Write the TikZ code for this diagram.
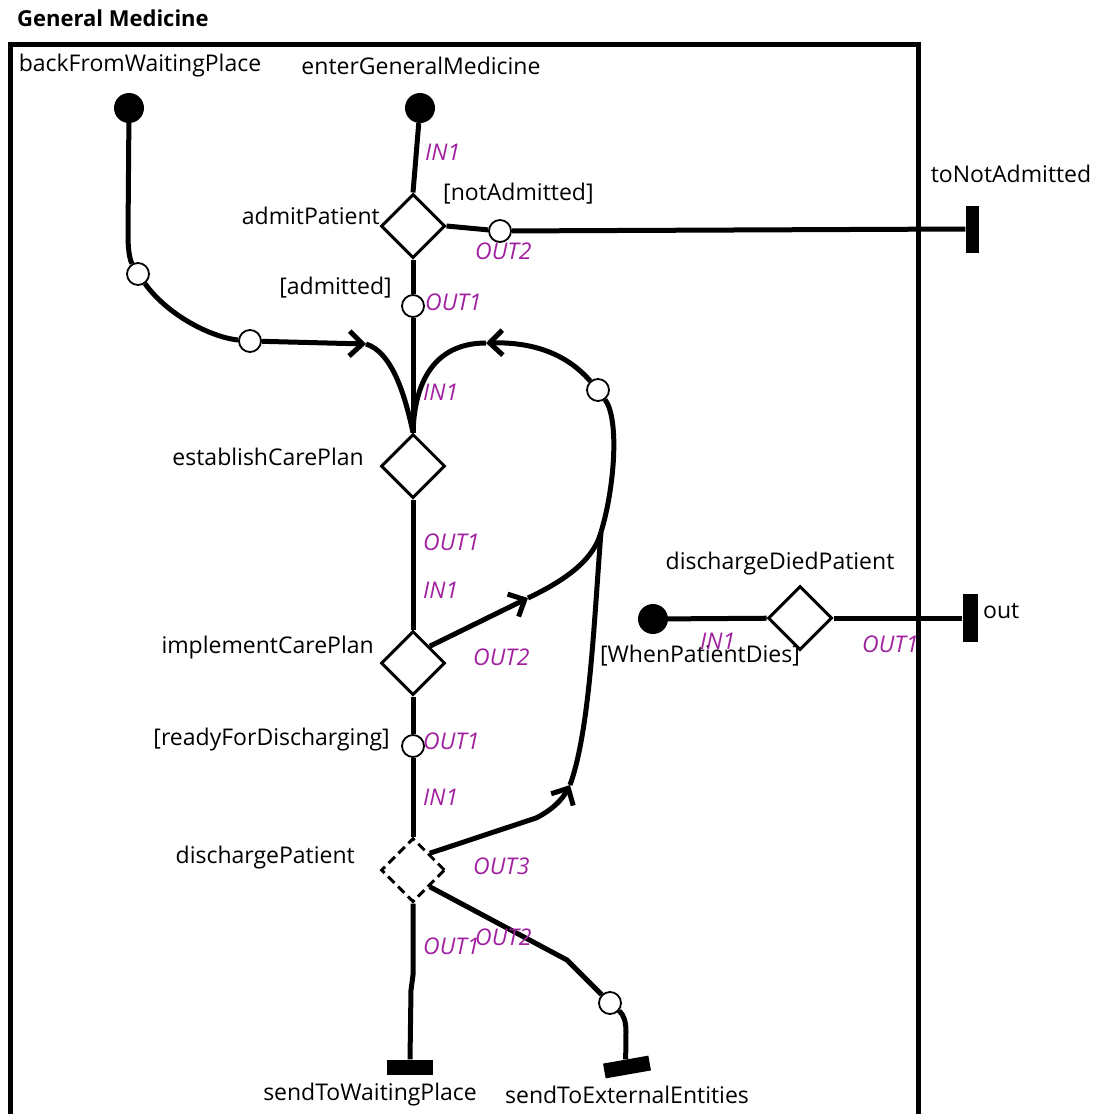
\documentclass[tikz,border=0pt]{standalone}
\usepackage{fontspec}
\setmainfont{Open Sans}
\usetikzlibrary{arrows.meta,positioning,shapes.geometric}
\definecolor{portcolor}{RGB}{160,32,160}
\newcommand{\diagfont}{\fontsize{23}{27}\selectfont}
\tikzset{
  lbl/.style     = {font=\diagfont,inner sep=0pt},
  port/.style    = {font=\diagfont\itshape,text=portcolor,inner sep=0pt},
  conn/.style    = {line width=5pt,line join=round},
  entry/.style   = {circle,fill=black,minimum size=30pt,inner sep=0pt},
  junc/.style    = {circle,draw=black,line width=1.8pt,fill=white,
                    minimum size=22pt,inner sep=0pt},
  task/.style    = {diamond,draw=black,line width=3pt,fill=white,aspect=1,
                    minimum width=64pt,minimum height=64pt,inner sep=0pt},
  exitbar/.style = {rectangle,fill=black,inner sep=0pt},
  tip/.style     = {-{Straight Barb[length=13pt,width=25pt]}},
}

\begin{document}
\begin{tikzpicture}[x=1pt,y=-1pt]
  \useasboundingbox (0,0) rectangle (1099,1114);
  % frame
  \node[lbl,font=\fontsize{22}{26}\selectfont\bfseries,anchor=west] (title) at (17,18) {General Medicine};
  \draw[line width=5pt] (10,1114) |- (918,44) -- (918,1114);

  % entry points
  \node[entry] (bfw) at (129,108) {};
  \node[lbl] at (140,66) {backFromWaitingPlace};
  \node[entry] (egm) at (420,108) {};
  \node[lbl] at (421,66) {enterGeneralMedicine};
  \node[entry] (wpd) at (653,619) {};
  \node[lbl] at (700,656) {[WhenPatientDies]};

  % tasks
  \node[task] (ap) at (413,226) {};
  \node[lbl,anchor=east] at (380,216) {admitPatient};
  \node[task] (ecp) at (413,466) {};
  \node[lbl,anchor=east] at (364,457) {establishCarePlan};
  \node[task] (icp) at (413,663) {};
  \node[lbl,anchor=east] at (374,648) {implementCarePlan};
  \node[task,dash pattern=on 9pt off 5pt] (dp) at (413,870) {};
  \node[lbl,anchor=east] at (355,858) {dischargePatient};
  \node[task] (ddp) at (800,618) {};
  \node[lbl] at (780,564) {dischargeDiedPatient};

  % junctions
  \node[junc] (c1) at (138,274) {};
  \node[junc] (c2) at (250,341) {};
  \node[junc] (c3) at (500,231) {};
  \node[junc] (c4) at (413,306) {};
  \node[junc] (c5) at (598,390) {};
  \node[junc] (crfd) at (413,746) {};
  \node[junc] (c6) at (610,1003) {};
  \coordinate (a1) at (366,344);
  \coordinate (a3) at (528,598);
  \coordinate (a4) at (486,343);
  \coordinate (a5) at (570,785);
  \coordinate (jn) at (601,532);

  % exits
  \node[exitbar,minimum width=13pt,minimum height=47pt] (tna) at (972,229) {};
  \node[lbl] at (1011,174) {toNotAdmitted};
  \node[exitbar,minimum width=15pt,minimum height=48pt] (outbar) at (970,618) {};
  \node[lbl,anchor=west] at (983,611) {out};
  \node[exitbar,minimum width=46pt,minimum height=15pt] (swp) at (410,1067) {};
  \node[lbl] at (370,1095) {sendToWaitingPlace};
  \node[exitbar,minimum width=46pt,minimum height=15pt,rotate=10] (ses) at (627,1067) {};
  \node[lbl] at (627,1095) {sendToExternalEntities};

  % guards
  \node[lbl,anchor=west] at (443,194) {[notAdmitted]};
  \node[lbl,anchor=east] at (392,288) {[admitted]};
  \node[lbl,anchor=east] at (390,740) {[readyForDischarging]};

  % connectors
  \draw[conn] (bfw) -- (128,235) .. controls (128,255) and (131,262) .. (c1);
  \draw[conn] (c1) .. controls (170,318) and (215,338) .. (c2);
  \draw[conn,tip] (c2) -- (a1);
  \draw[conn] (a1) .. controls (392,352) and (405,395) .. (ecp.north);
  \draw[conn] (egm) -- (ap.north);
  \draw[conn] (ap.east) -- (c3);
  \draw[conn] (c3) -- (tna.west);
  \draw[conn] (ap) -- (c4);
  \draw[conn] (c4) -- (ecp);
  \draw[conn] (ecp) -- (icp);
  \draw[conn,tip] (icp.north east) -- (a3);
  \draw[conn] (a3) .. controls (570,578) and (594,558) .. (jn);
  \draw[conn] (jn) .. controls (614,490) and (620,420) .. (c5);
  \draw[conn,tip] (c5) .. controls (565,352) and (530,342) .. (a4);
  \draw[conn] (a4) .. controls (445,343) and (415,368) .. (ecp.north);
  \draw[conn] (icp) -- (crfd);
  \draw[conn] (crfd) -- (dp);
  \draw[conn,tip] (dp.north east) -- (536,818) .. controls (552,810) and (562,800) .. (a5);
  \draw[conn] (a5) .. controls (590,730) and (594,620) .. (jn);
  \draw[conn] (dp) -- (413,975) -- (411,990) -- (swp.north);
  \draw[conn] (dp.south east) -- (567,960) -- (c6);
  \draw[conn] (c6) .. controls (624,1015) and (626,1022) .. (626,1032) -- (ses.north);
  \draw[conn] (wpd) -- (ddp);
  \draw[conn] (ddp) -- (outbar.west);

  % ports
  \node[port,anchor=west] at (425,152) {IN1};
  \node[port,anchor=west] at (475,251) {OUT2};
  \node[port,anchor=west] at (425,302) {OUT1};
  \node[port,anchor=west] at (423,392) {IN1};
  \node[port,anchor=west] at (423,542) {OUT1};
  \node[port,anchor=west] at (423,590) {IN1};
  \node[port,anchor=west] at (473,657) {OUT2};
  \node[port,anchor=west] at (423,741) {OUT1};
  \node[port,anchor=west] at (423,797) {IN1};
  \node[port,anchor=west] at (473,866) {OUT3};
  \node[port,anchor=west] at (423,946) {OUT1};
  \node[port,anchor=west] at (475,937) {OUT2};
  \node[port,anchor=west] at (700,641) {IN1};
  \node[port,anchor=west] at (862,644) {OUT1};
\end{tikzpicture}
\end{document}
